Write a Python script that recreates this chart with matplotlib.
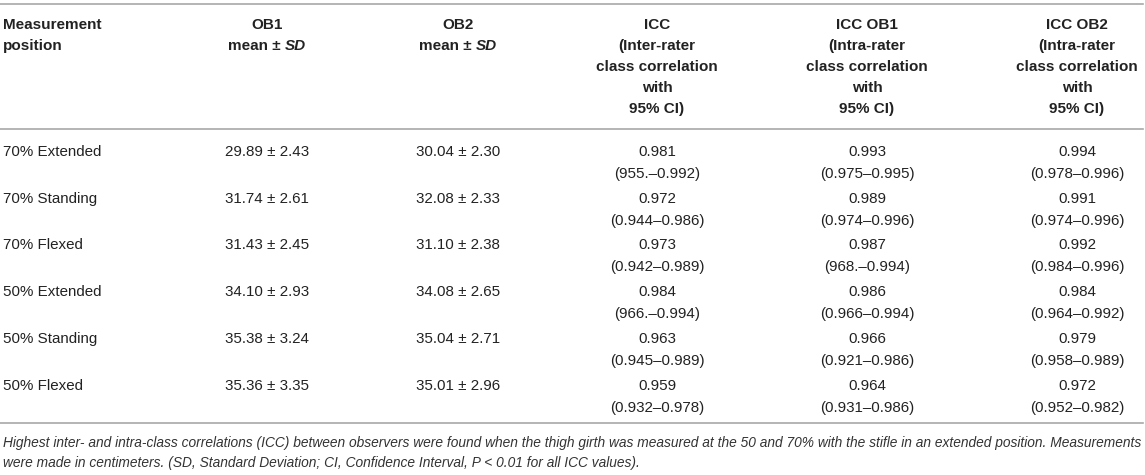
import matplotlib.pyplot as plt
from matplotlib.lines import Line2D

plt.rcParams['font.family'] = ['Liberation Sans', 'DejaVu Sans']

# table content
positions = ["70% Extended", "70% Standing", "70% Flexed",
             "50% Extended", "50% Standing", "50% Flexed"]
ob1_mean = [29.89, 31.74, 31.43, 34.10, 35.38, 35.36]
ob1_sd = [2.43, 2.61, 2.45, 2.93, 3.24, 3.35]
ob2_mean = [30.04, 32.08, 31.10, 34.08, 35.04, 35.01]
ob2_sd = [2.30, 2.33, 2.38, 2.65, 2.71, 2.96]
icc_inter = [0.981, 0.972, 0.973, 0.984, 0.963, 0.959]
ci_inter = ["(955.\u20130.992)", "(0.944\u20130.986)", "(0.942\u20130.989)",
            "(966.\u20130.994)", "(0.945\u20130.989)", "(0.932\u20130.978)"]
icc_ob1 = [0.993, 0.989, 0.987, 0.986, 0.966, 0.964]
ci_ob1 = ["(0.975\u20130.995)", "(0.974\u20130.996)", "(968.\u20130.994)",
          "(0.966\u20130.994)", "(0.921\u20130.986)", "(0.931\u20130.986)"]
icc_ob2 = [0.994, 0.991, 0.992, 0.984, 0.979, 0.972]
ci_ob2 = ["(0.978\u20130.996)", "(0.974\u20130.996)", "(0.984\u20130.996)",
          "(0.964\u20130.992)", "(0.958\u20130.989)", "(0.952\u20130.982)"]

icc_headers = [["ICC", "(Inter-rater", "class correlation", "with", "95% CI)"],
               ["ICC OB1", "(Intra-rater", "class correlation", "with", "95% CI)"],
               ["ICC OB2", "(Intra-rater", "class correlation", "with", "95% CI)"]]

footnote = ["Highest inter- and intra-class correlations (ICC) between observers were found when the thigh girth "
            "was measured at the 50 and 70% with the stifle in an extended position. Measurements",
            "were made in centimeters. (SD, Standard Deviation; CI, Confidence Interval, P < 0.01 for all ICC values)."]

W, H = 1145, 475
fig = plt.figure(figsize=(W / 100, H / 100), dpi=100)
renderer = fig.canvas.get_renderer()


def fx(x):
    return x / W


def fy(y):
    return 1 - y / H


txt_color = '#222222'
fs = 10.9
hfs = 11.0
col_x = [3, 267, 458, 657, 867, 1077]
head_y = [25, 46, 67, 88, 109]
row_y = [152, 199, 245, 292, 339, 386]
line_gap = 22

# rules
for y in [4, 129, 423]:
    fig.add_artist(Line2D([0, fx(1143)], [fy(y), fy(y)], color='#a8a8a8', lw=1.2))

# header
fig.text(fx(col_x[0]), fy(head_y[0]), "Measurement", ha='left', va='center',
         fontsize=hfs, fontweight='bold', color=txt_color)
fig.text(fx(col_x[0]), fy(head_y[1]), "position", ha='left', va='center',
         fontsize=hfs, fontweight='bold', color=txt_color)

for name, x in zip(["OB1", "OB2"], col_x[1:3]):
    fig.text(fx(x), fy(head_y[0]), name, ha='center', va='center',
             fontsize=hfs, fontweight='bold', color=txt_color)
    # "mean ± SD" with SD in italic
    a = fig.text(0, 0, "mean \u00b1", fontsize=hfs, fontweight='bold')
    b = fig.text(0, 0, "SD", fontsize=hfs, fontweight='bold', style='italic')
    wa = a.get_window_extent(renderer).width
    wb = b.get_window_extent(renderer).width
    gap = 4
    x0 = x - (wa + gap + wb) / 2
    a.set_position((fx(x0), fy(head_y[1])))
    a.set_va('center')
    a.set_color(txt_color)
    b.set_position((fx(x0 + wa + gap), fy(head_y[1])))
    b.set_va('center')
    b.set_color(txt_color)

for lines, x in zip(icc_headers, col_x[3:]):
    for s, y in zip(lines, head_y):
        fig.text(fx(x), fy(y), s, ha='center', va='center',
                 fontsize=hfs, fontweight='bold', color=txt_color)

# body
for i, y in enumerate(row_y):
    fig.text(fx(col_x[0]), fy(y), positions[i], ha='left', va='center',
             fontsize=fs, color=txt_color)
    fig.text(fx(col_x[1]), fy(y), f"{ob1_mean[i]:.2f} \u00b1 {ob1_sd[i]:.2f}",
             ha='center', va='center', fontsize=fs, color=txt_color)
    fig.text(fx(col_x[2]), fy(y), f"{ob2_mean[i]:.2f} \u00b1 {ob2_sd[i]:.2f}",
             ha='center', va='center', fontsize=fs, color=txt_color)
    for vals, cis, x in zip([icc_inter, icc_ob1, icc_ob2],
                            [ci_inter, ci_ob1, ci_ob2], col_x[3:]):
        fig.text(fx(x), fy(y), f"{vals[i]:.3f}", ha='center', va='center',
                 fontsize=fs, color=txt_color)
        fig.text(fx(x), fy(y + line_gap), cis[i], ha='center', va='center',
                 fontsize=fs, color=txt_color)

# footnote
for s, y in zip(footnote, [443, 463]):
    fig.text(fx(3), fy(y), s, ha='left', va='center', fontsize=9.9,
             style='italic', color='#333333')

fig.savefig("out.png", dpi=100)
